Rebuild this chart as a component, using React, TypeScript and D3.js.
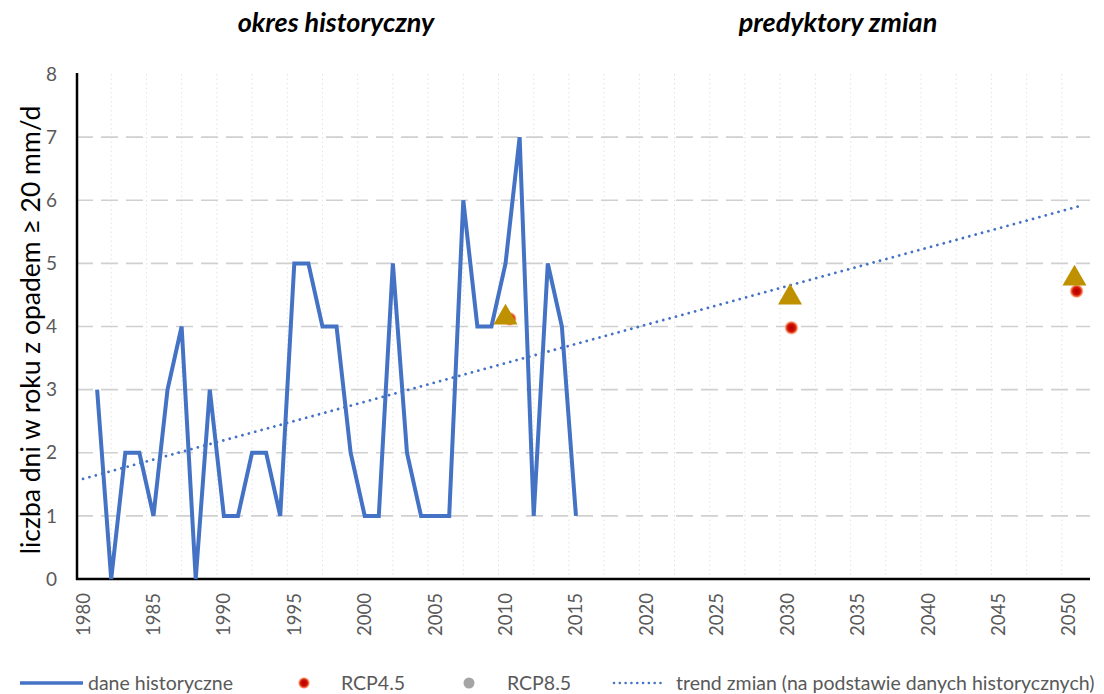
import * as d3 from 'd3';

const width = 1104;
const height = 694;

// dane historyczne (1981-2015)
const years = [1981, 1982, 1983, 1984, 1985, 1986, 1987, 1988, 1989, 1990, 1991, 1992, 1993, 1994, 1995, 1996, 1997, 1998, 1999, 2000, 2001, 2002, 2003, 2004, 2005, 2006, 2007, 2008, 2009, 2010, 2011, 2012, 2013, 2014, 2015];
const days = [3, 0, 2, 2, 1, 3, 4, 0, 3, 1, 1, 2, 2, 1, 5, 5, 4, 4, 2, 1, 1, 5, 2, 1, 1, 1, 6, 4, 4, 5, 7, 1, 5, 4, 1];

// scenariusze
const rcp45Years = [2010.3, 2030.3, 2050.55];
const rcp45Values = [4.12, 3.98, 4.56];
const rcp85Years = [2010, 2030.2, 2050.4];
const rcp85Values = [4.14, 4.46, 4.76];

const yTicks = [0, 1, 2, 3, 4, 5, 6, 7, 8];
const xTicks = [1980, 1985, 1990, 1995, 2000, 2005, 2010, 2015, 2020, 2025, 2030, 2035, 2040, 2045, 2050];

const font = 'Lato, "Open Sans", sans-serif';
const blue = '#4472C4';
const gold = '#BF9000';

export default function App() {
  const x = d3.scaleLinear().domain([1979.5, 2051.5]).range([76, 1090]);
  const y = d3.scaleLinear().domain([0, 8]).range([579, 74]);

  // trend liniowy (metoda najmniejszych kwadratów)
  const mx = d3.mean(years) || 0;
  const my = d3.mean(days) || 0;
  const sxy = d3.sum(years, (yr, i) => (yr - mx) * (days[i] - my));
  const sxx = d3.sum(years, (yr) => (yr - mx) ** 2);
  const slope = sxy / sxx;
  const trend = (yr: number) => my + slope * (yr - mx);
  const trendYears = [1980, 2051];

  const line = d3.line<number>()
    .x((_, i) => x(years[i]))
    .y((d) => y(d));
  const trendLine = d3.line<number>()
    .x((d) => x(d))
    .y((d) => y(trend(d)));

  const tri = d3.symbol().type(d3.symbolTriangle).size(250)();
  const vGrid = d3.range(1982, 2051, 2.5);

  return (
    <svg width={width} height={height} style={{ position: 'absolute', left: 0, top: 0, background: '#fff' }}>
      <defs>
        <radialGradient id="redDot">
          <stop offset="0%" stopColor="#B00000" />
          <stop offset="55%" stopColor="#D01000" />
          <stop offset="80%" stopColor="#F05A28" stopOpacity={0.8} />
          <stop offset="100%" stopColor="#F8A070" stopOpacity={0.2} />
        </radialGradient>
      </defs>

      {/* siatka */}
      {vGrid.map((v) => (
        <line key={'v' + v} x1={x(v)} x2={x(v)} y1={74} y2={579} stroke="#E2E2E2" strokeWidth={1} strokeDasharray="1.5 3" />
      ))}
      {yTicks.slice(1, -1).map((t) => (
        <line key={'h' + t} x1={76} x2={1090} y1={y(t)} y2={y(t)} stroke="#D0D0D0" strokeWidth={1.6} strokeDasharray="17 8" />
      ))}

      {/* osie */}
      <line x1={77} x2={77} y1={73} y2={580} stroke="#000" strokeWidth={2.5} />
      <line x1={76} x2={1090} y1={579} y2={579} stroke="#000" strokeWidth={2.5} />

      {yTicks.map((t) => (
        <text key={'yt' + t} x={57} y={y(t)} dy="0.35em" textAnchor="end" fontFamily={font} fontSize={19} fill="#595959">{t}</text>
      ))}
      {xTicks.map((t) => (
        <text key={'xt' + t} transform={`translate(${x(t)},593) rotate(-90)`} dy="0.35em" textAnchor="end" fontFamily={font} fontSize={18.5} fill="#595959">{t}</text>
      ))}

      <text transform="translate(31,330) rotate(-90)" dy="0.35em" textAnchor="middle" fontFamily={font} fontSize={26.5} fill="#000">
        liczba dni w roku z opadem ≥ 20 mm/d
      </text>

      <text x={336} y={23} dy="0.35em" textAnchor="middle" fontFamily={font} fontSize={27} fontWeight="bold" fontStyle="italic">okres historyczny</text>
      <text x={838} y={23} dy="0.35em" textAnchor="middle" fontFamily={font} fontSize={27} fontWeight="bold" fontStyle="italic">predyktory zmian</text>

      {/* dane */}
      <path d={line(days) || ''} fill="none" stroke={blue} strokeWidth={4} strokeLinejoin="miter" />
      <path d={trendLine(trendYears) || ''} fill="none" stroke={blue} strokeWidth={2.8} strokeDasharray="0.01 6.6" strokeLinecap="round" />

      {rcp45Values.map((v, i) => (
        <circle key={'r45' + i} cx={x(rcp45Years[i])} cy={y(v)} r={7} fill="url(#redDot)" />
      ))}
      {rcp85Values.map((v, i) => (
        <path key={'r85' + i} d={tri || ''} transform={`translate(${x(rcp85Years[i])},${y(v)})`} fill={gold} />
      ))}

      {/* legenda */}
      <g fontFamily={font} fontSize={19.5} fill="#595959">
        <line x1={20} x2={83} y1={683} y2={683} stroke={blue} strokeWidth={3.5} />
        <text x={88} y={683} dy="0.35em">dane historyczne</text>
        <circle cx={304} cy={683} r={6} fill="url(#redDot)" />
        <text x={341} y={683} dy="0.35em">RCP4.5</text>
        <circle cx={469} cy={683} r={5.5} fill="#A5A5A5" />
        <text x={507} y={683} dy="0.35em">RCP8.5</text>
        <line x1={614} x2={666} y1={683} y2={683} stroke={blue} strokeWidth={2.6} strokeDasharray="0.01 5.8" strokeLinecap="round" />
        <text x={676} y={683} dy="0.35em">trend zmian (na podstawie danych historycznych)</text>
      </g>
    </svg>
  );
}
